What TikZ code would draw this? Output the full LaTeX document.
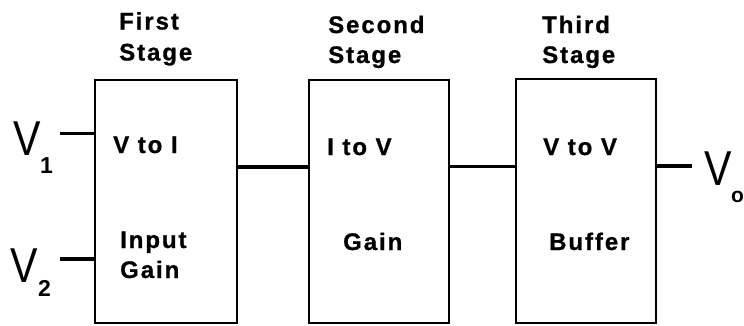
\documentclass[tikz,border=0pt]{standalone}
\usepackage{fontspec}
\setmainfont{Liberation Sans}
\newfontfamily\labfont[LetterSpace=8,FakeBold=0.8]{Liberation Sans Bold}
\begin{document}
\begin{tikzpicture}[x=1pt,y=-1pt,
 stagebox/.style={draw=black,line width=2.4pt,inner sep=0pt,anchor=north west},
 lab/.style={font=\labfont\fontsize{24}{24}\selectfont,inner sep=0pt,anchor=base west,text=black},
 wire/.style={line width=3.6pt,draw=black},
 big/.style={font=\fontsize{49}{49}\selectfont,inner sep=0pt,anchor=base west,xscale=.84},
 sub/.style={font=\fontsize{23}{23}\selectfont\bfseries,inner sep=0pt,anchor=base west}]
\useasboundingbox (0,0) rectangle (744,325);
\fill[white] (0,0) rectangle (744,325);
\node[stagebox,minimum width=142pt,minimum height=243pt] (s1) at (93.5,79) {};
\node[stagebox,minimum width=140pt,minimum height=243pt] (s2) at (308,79) {};
\node[stagebox,minimum width=140pt,minimum height=244pt] (s3) at (515,78) {};
\node[lab] (t1a) at (119,29.5) {First};
\node[lab] (t1b) at (119,60.5) {Stage};
\node[lab] (t2a) at (328,33) {Second};
\node[lab] (t2b) at (328,63) {Stage};
\node[lab] (t3a) at (542,33) {Third};
\node[lab] (t3b) at (542,63) {Stage};
\node[lab] (l1) at (113,153) {V to I};
\node[lab] (l2) at (120,248) {Input};
\node[lab] (l3) at (120,278) {Gain};
\node[lab] (l4) at (327,155) {I to V};
\node[lab] (l5) at (343,250) {Gain};
\node[lab] (l6) at (543,155) {V to V};
\node[lab] (l7) at (549,250) {Buffer};
\node[big] (v1) at (13,155) {V};
\node[sub] (v1s) at (40,173) {1};
\node[big] (v2) at (10,282) {V};
\node[sub] (v2s) at (38,296) {2};
\node[big] (vo) at (704,185) {V};
\node[sub,font=\fontsize{21}{21}\selectfont\bfseries] (vos) at (731,202) {o};
\coordinate (a1) at (60,133.5);
\coordinate (a2) at (60,259);
\coordinate (j1) at (270,167);
\coordinate (j2) at (480,166.5);
\coordinate (a3) at (692,166);
\draw[wire] (a1) -- (a1 -| s1.west);
\draw[wire] (a2) -- (a2 -| s1.west);
\draw[wire] (j1 -| s1.east) -- (j1 -| s2.west);
\draw[wire] (j2 -| s2.east) -- (j2 -| s3.west);
\draw[wire] (a3 -| s3.east) -- (a3);
\end{tikzpicture}
\end{document}
